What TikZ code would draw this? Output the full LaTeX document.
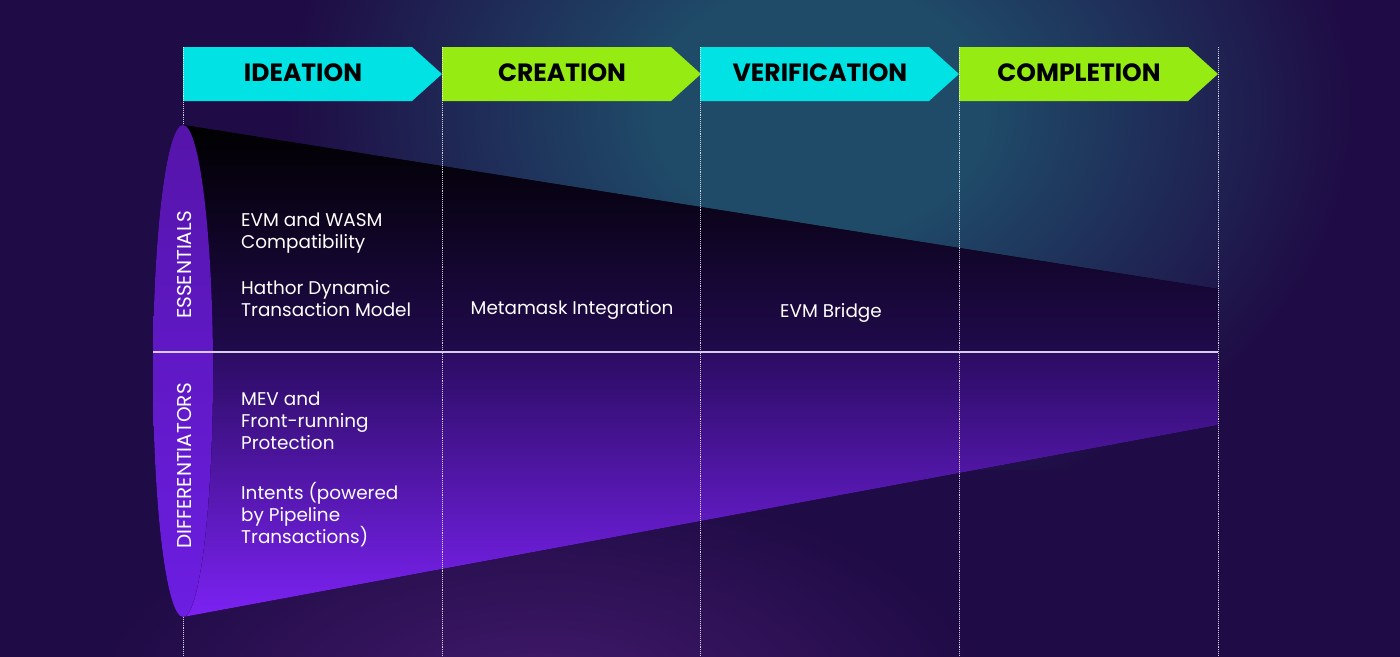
\documentclass[tikz,border=0pt]{standalone}
\usepackage{fontspec}
\setmainfont{Poppins}
\usepackage{xcolor}
\usepackage{tikz}
\usetikzlibrary{positioning,calc}

\definecolor{bgpurple}{HTML}{1F0B45}
\definecolor{glowteal}{HTML}{1F4A68}
\definecolor{glowplum}{HTML}{421A6C}
\definecolor{stagecyan}{HTML}{00E2E4}
\definecolor{stagegreen}{HTML}{96EC12}
\definecolor{funneltop}{HTML}{000000}
\definecolor{funnelmid}{HTML}{200A4C}
\definecolor{funnellow}{HTML}{2B0C62}
\definecolor{funnelbot}{HTML}{7C22F4}
\definecolor{rimtop}{HTML}{5514AA}
\definecolor{rimbot}{HTML}{6C1EE2}
\definecolor{divider}{HTML}{D8CCF0}

\pgfdeclareradialshading{tealglow}{\pgfpoint{0bp}{0bp}}{color(0bp)=(glowteal); color(5bp)=(glowteal); color(16bp)=(bgpurple); color(50bp)=(bgpurple)}
\pgfdeclareradialshading{plumglow}{\pgfpoint{0bp}{0bp}}{color(0bp)=(glowplum); color(12.5bp)=(bgpurple); color(50bp)=(bgpurple)}

\begin{document}
\begin{tikzpicture}[
  x=1pt,y=-1pt,
  stage/.style={font=\bfseries\fontsize{25}{28}\selectfont,text=black,inner sep=0pt},
  item/.style={font=\fontsize{18.4}{22}\selectfont,text=white,align=left,anchor=north west,inner sep=0pt},
  cell/.style={font=\fontsize{18.4}{22}\selectfont,text=white,anchor=base,inner sep=0pt},
  tier/.style={font=\fontsize{20}{22}\selectfont,text=white,rotate=90,inner sep=0pt},
  grid/.style={white,densely dotted,line width=0.9pt,opacity=0.8}
]
% background and glow
\fill[bgpurple] (0,0) rectangle (1400,656);
\useasboundingbox (0,0) rectangle (1400,656);
\begin{scope}
  \clip (0,0) rectangle (1400,656);
  \shade[shading=tealglow] (-20,-530) rectangle (1660,750);
\end{scope}
\begin{scope}
  \clip (0,470) rectangle (1400,656);
  \shade[shading=plumglow] (-360,260) rectangle (1440,1140);
\end{scope}

% stage arrows
\foreach \x/\col/\name/\lbl in {183/stagecyan/ideation/IDEATION,
    442/stagegreen/creation/CREATION,
    700/stagecyan/verification/VERIFICATION,
    959/stagegreen/completion/COMPLETION}{
  \fill[\col] (\x,47) -- ++(229,0) -- ++(30,27) -- ++(-30,27) -- ++(-229,0) -- cycle;
  \node[stage] (\name) at (\x+120,73) {\lbl};
}

% funnel
\fill[top color=funneltop,bottom color=funnelmid]
  (183,125) -- (1218,289) -- (1218,352) -- (183,352) -- cycle;
\fill[top color=funnellow,bottom color=funnelbot]
  (183,352) -- (1218,352) -- (1218,425) -- (183,617) -- cycle;

% column guides
\foreach \x in {183,442,700,959,1218}
  \draw[grid] (\x,47) -- (\x,656);

\fill[top color=rimtop,bottom color=rimbot] (183,371) ellipse (30 and 246);
\draw[divider,line width=1.3pt] (153,352) -- (1218,352);

% row labels
\node[tier] (essentials) at (185,265) {ESSENTIALS};
\node[tier] (differentiators) at (185,466) {DIFFERENTIATORS};

% items
\node[item] (evm) at (241,213) {EVM and WASM\\Compatibility};
\node[item] (hathor) at (241,280) {Hathor Dynamic\\Transaction Model};
\node[cell] (metamask) at (572,314) {Metamask Integration};
\node[cell] (bridge) at (831,317) {EVM Bridge};
\node[item] (mev) at (241,392) {MEV and\\Front-running\\Protection};
\node[item] (intents) at (241,482) {Intents (powered\\by Pipeline\\Transactions)};
\end{tikzpicture}
\end{document}
